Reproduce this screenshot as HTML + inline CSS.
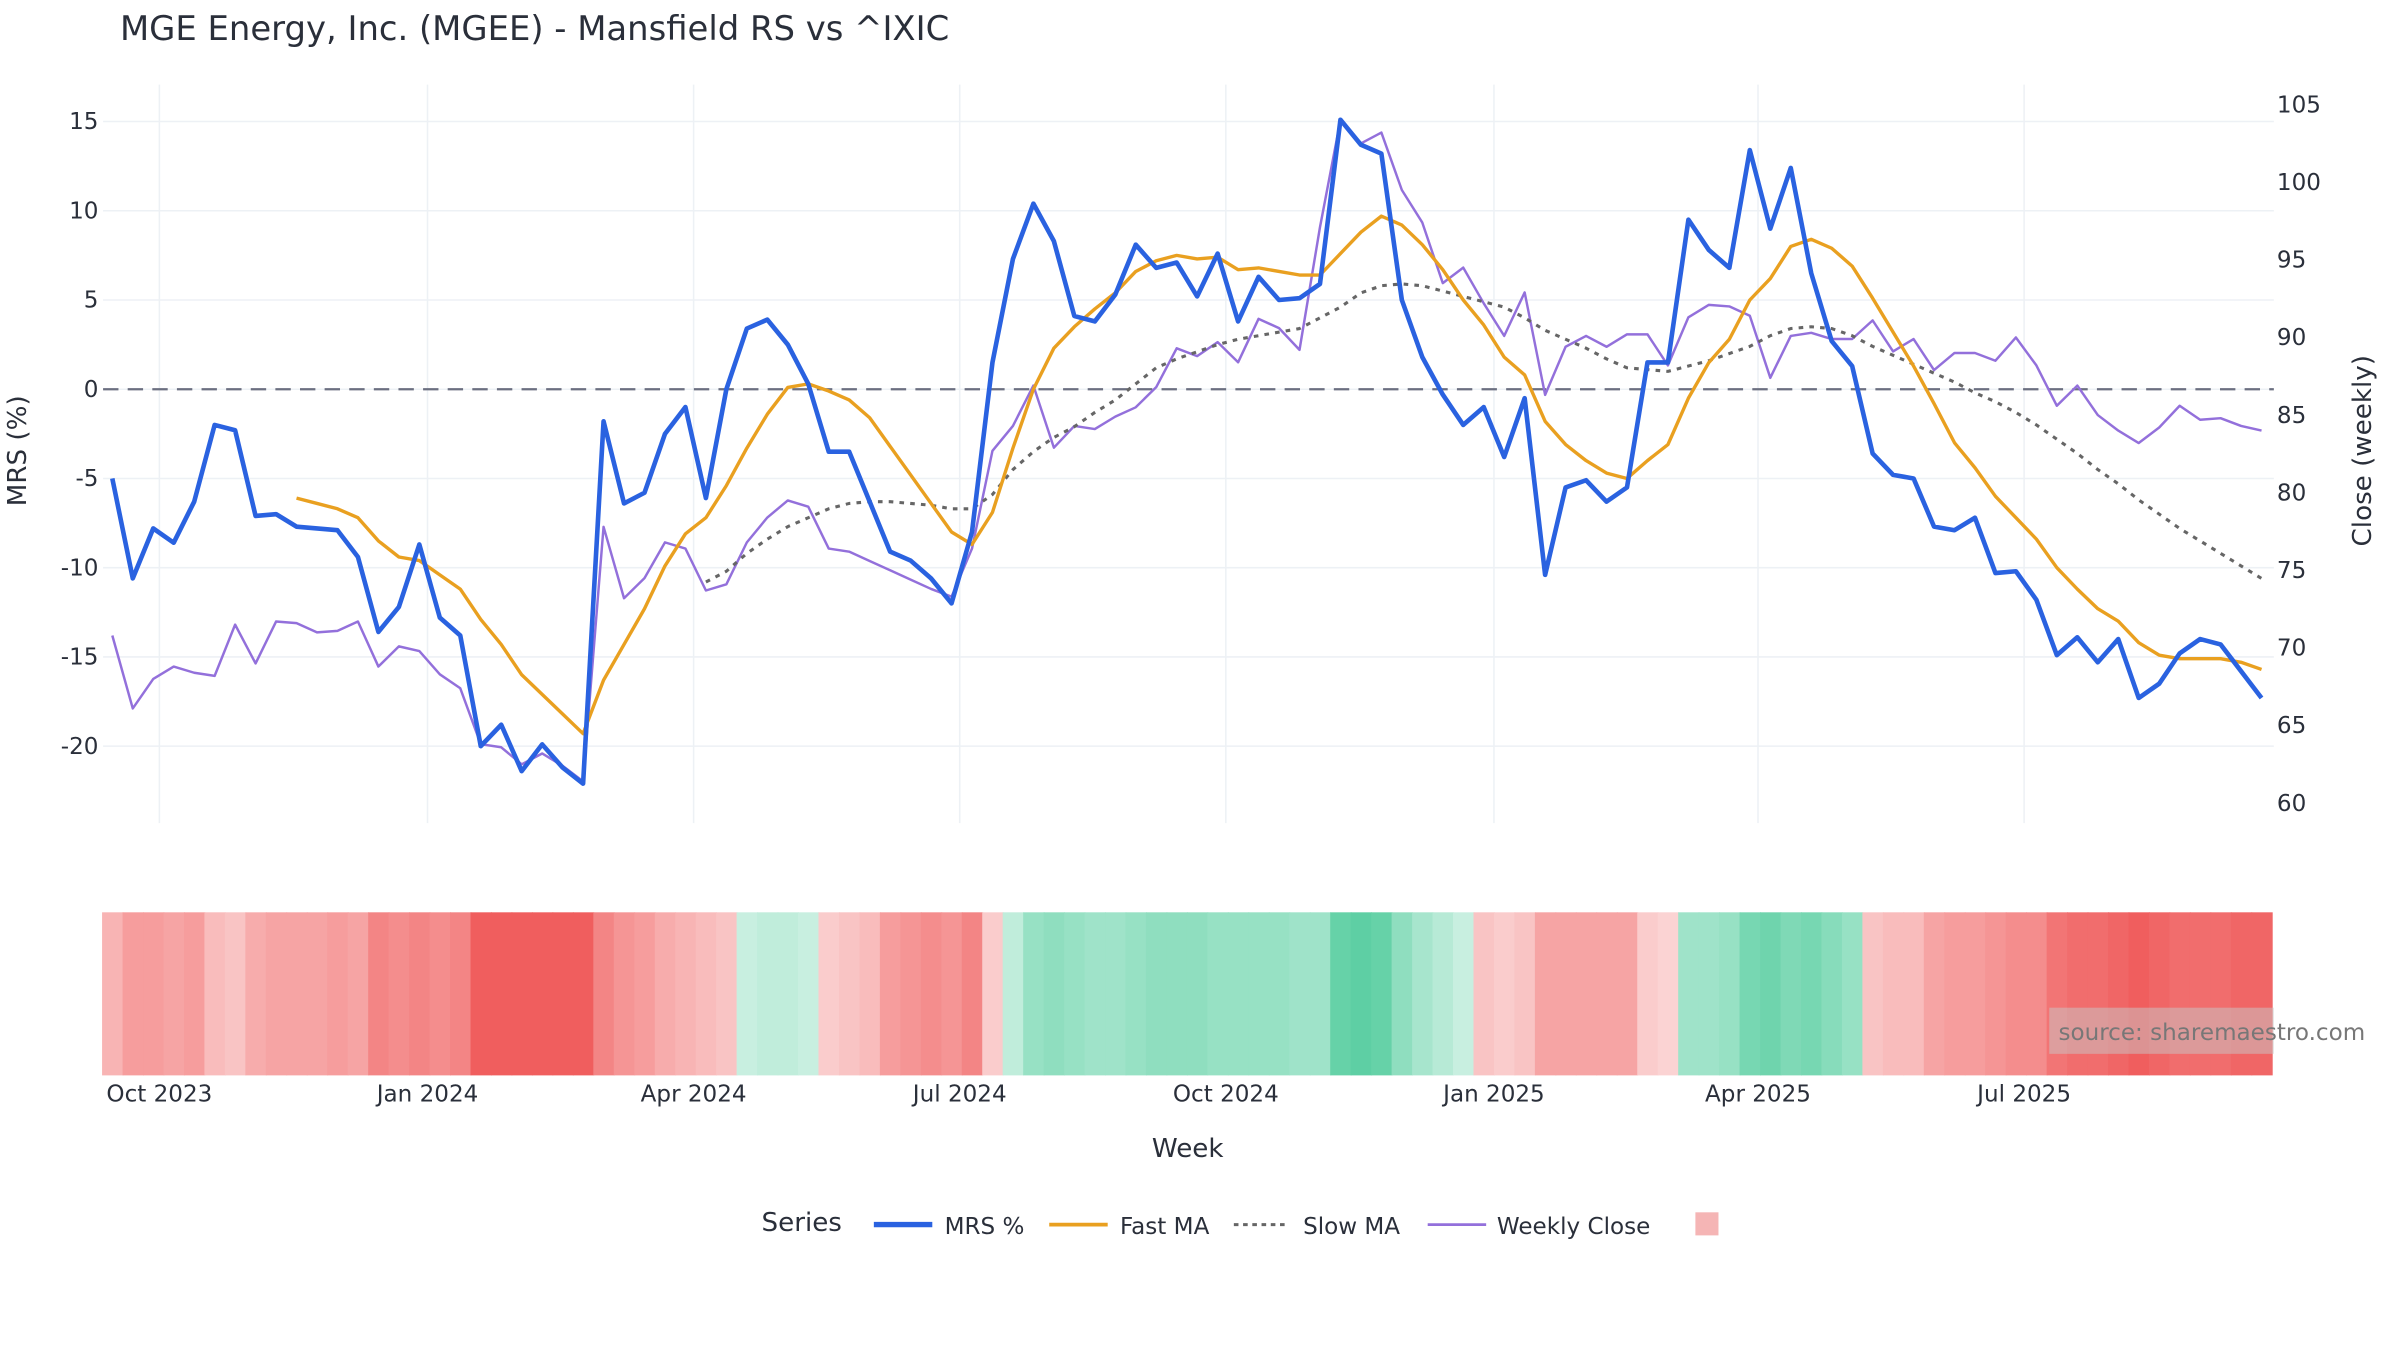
<!DOCTYPE html>
<html><head><meta charset="utf-8"><style>
html,body{margin:0;padding:0;background:#fff;}
svg{display:block;font-family:"DejaVu Sans","Liberation Sans",sans-serif;}
</style></head>
<body>
<svg id="chart" width="2400" height="1350" viewBox="0 0 1560 877.5" xmlns="http://www.w3.org/2000/svg">
<text x="78" y="26" font-size="22" fill="#2a2f3a">MGE Energy, Inc. (MGEE) - Mansfield RS vs ^IXIC</text>
<g id="grid"></g>
<g id="heat"></g>
<g id="lines"></g>
<g id="axes"></g>
<text transform="translate(17,293) rotate(-90)" text-anchor="middle" font-size="17" fill="#2a2f3a">MRS (%)</text>
<text transform="translate(1541,293) rotate(-90)" text-anchor="middle" font-size="17" fill="#2a2f3a">Close (weekly)</text>
<text x="772" y="752" text-anchor="middle" font-size="17" fill="#2a2f3a">Week</text>
<g>
<rect x="1332" y="655" width="146" height="30" fill="#c8c8c8" fill-opacity="0.5"/>
<text x="1338" y="676" font-size="15" fill="#777">source: sharemaestro.com</text>
</g>
<g>
<text x="495" y="800" font-size="17" fill="#2a2f3a">Series</text>
<g><line x1="568" y1="796" x2="606" y2="796" stroke="#2a62e0" stroke-width="3.5"/><text x="614" y="802" font-size="15" fill="#2a2f3a">MRS %</text></g>
<g><line x1="682" y1="796" x2="720" y2="796" stroke="#e9a020" stroke-width="2.5"/><text x="728" y="802" font-size="15" fill="#2a2f3a">Fast MA</text></g>
<g><line x1="802" y1="796" x2="838" y2="796" stroke="#666" stroke-width="2" stroke-dasharray="3,3"/><text x="847" y="802" font-size="15" fill="#2a2f3a">Slow MA</text></g>
<g><line x1="928" y1="796" x2="966" y2="796" stroke="#9370db" stroke-width="1.8"/><text x="973" y="802" font-size="15" fill="#2a2f3a">Weekly Close</text></g>
<rect x="1102" y="788" width="15" height="15" fill="#f5b5b5"/>
</g>
</svg>
<script>
const mrs=[-5,-10.6,-7.8,-8.6,-6.3,-2,-2.3,-7.1,-7,-7.7,-7.8,-7.9,-9.4,-13.6,-12.2,-8.7,-12.8,-13.8,-20,-18.8,-21.4,-19.9,-21.2,-22.1,-1.8,-6.4,-5.8,-2.5,-1,-6.1,0,3.4,3.9,2.5,0.3,-3.5,-3.5,-6.3,-9.1,-9.6,-10.6,-12,-8,1.5,7.3,10.4,8.3,4.1,3.8,5.3,8.1,6.8,7.1,5.2,7.6,3.8,6.3,5.0,5.1,5.9,15.1,13.7,13.2,5.0,1.8,-0.3,-2.0,-1.0,-3.8,-0.5,-10.4,-5.5,-5.1,-6.3,-5.5,1.5,1.5,9.5,7.8,6.8,13.4,9.0,12.4,6.5,2.7,1.3,-3.6,-4.8,-5.0,-7.7,-7.9,-7.2,-10.3,-10.2,-11.8,-14.9,-13.9,-15.3,-14.0,-17.3,-16.5,-14.8,-14.0,-14.3,-15.8,-17.3];
const fastStart=9;
const fastMA=[-6.1,-6.4,-6.7,-7.2,-8.5,-9.4,-9.6,-10.4,-11.2,-12.9,-14.3,-16.0,-17.1,-18.2,-19.3,-16.3,-14.3,-12.3,-9.9,-8.1,-7.2,-5.4,-3.3,-1.4,0.1,0.3,-0.1,-0.6,-1.6,-3.2,-4.8,-6.4,-8.0,-8.7,-6.9,-3.3,0,2.3,3.5,4.5,5.4,6.6,7.2,7.5,7.3,7.4,6.7,6.8,6.6,6.4,6.4,7.6,8.8,9.7,9.2,8.1,6.7,5.0,3.6,1.8,0.8,-1.8,-3.1,-4.0,-4.7,-5.0,-4.0,-3.1,-0.5,1.5,2.8,5.0,6.2,8.0,8.4,7.9,6.9,5.1,3.2,1.3,-0.8,-3.0,-4.4,-6.0,-7.2,-8.4,-10.0,-11.2,-12.3,-13.0,-14.2,-14.9,-15.1,-15.1,-15.1,-15.3,-15.7];
const slowStart=29;
const slowMA=[-10.8,-10.2,-9.2,-8.4,-7.7,-7.2,-6.7,-6.4,-6.3,-6.3,-6.4,-6.5,-6.7,-6.7,-5.9,-4.5,-3.5,-2.7,-2.1,-1.3,-0.6,0.3,1.2,1.7,2.1,2.5,2.8,3.0,3.2,3.4,4.0,4.6,5.4,5.8,5.9,5.8,5.5,5.2,4.9,4.6,4.0,3.3,2.8,2.3,1.7,1.2,1.1,1.0,1.3,1.6,2.0,2.4,3.0,3.4,3.5,3.4,3.0,2.4,1.9,1.4,0.9,0.4,-0.2,-0.7,-1.3,-2.0,-2.8,-3.6,-4.5,-5.3,-6.2,-7.0,-7.8,-8.5,-9.2,-9.9,-10.6];
const closeW=[70.8,66.1,68.0,68.8,68.4,68.2,71.5,69.0,71.7,71.6,71.0,71.1,71.7,68.8,70.1,69.8,68.3,67.4,63.8,63.6,62.5,63.2,62.4,61.4,77.8,73.2,74.5,76.8,76.4,73.7,74.1,76.8,78.4,79.5,79.1,76.4,76.2,75.6,75.0,74.4,73.8,73.3,76.4,82.7,84.3,86.9,82.9,84.3,84.1,84.9,85.5,86.8,89.3,88.8,89.7,88.4,91.2,90.6,89.2,97.1,104.0,102.5,103.2,99.5,97.4,93.5,94.5,92.2,90.1,92.9,86.3,89.4,90.1,89.4,90.2,90.2,88.2,91.3,92.1,92.0,91.4,87.4,90.1,90.3,89.9,89.9,91.1,89.1,89.9,87.9,89.0,89.0,88.5,90.0,88.2,85.6,86.9,85.0,84.0,83.2,84.2,85.6,84.7,84.8,84.3,84.0];
const heat=[-0.35,-0.5,-0.5,-0.45,-0.5,-0.3,-0.25,-0.4,-0.45,-0.45,-0.45,-0.5,-0.45,-0.65,-0.6,-0.65,-0.6,-0.65,-0.9,-0.9,-0.9,-0.9,-0.9,-0.9,-0.65,-0.55,-0.5,-0.4,-0.35,-0.3,-0.25,0.2,0.25,0.25,0.2,-0.2,-0.25,-0.3,-0.5,-0.55,-0.6,-0.55,-0.65,-0.2,0.25,0.5,0.55,0.5,0.45,0.45,0.5,0.55,0.55,0.55,0.5,0.5,0.5,0.5,0.45,0.45,0.8,0.85,0.8,0.55,0.4,0.3,0.2,-0.25,-0.2,-0.25,-0.45,-0.45,-0.45,-0.45,-0.45,-0.2,-0.15,0.45,0.45,0.5,0.7,0.75,0.65,0.7,0.6,0.5,-0.25,-0.3,-0.3,-0.45,-0.5,-0.5,-0.55,-0.6,-0.6,-0.75,-0.8,-0.8,-0.85,-0.9,-0.85,-0.8,-0.8,-0.8,-0.85,-0.85];
const leftTicks=[15,10,5,0,-5,-10,-15,-20];
const rightTicks=[105,100,95,90,85,80,75,70,65,60];
const monthLabels=["Oct 2023","Jan 2024","Apr 2024","Jul 2024","Oct 2024","Jan 2025","Apr 2025","Jul 2025"];
const monthWeek=[2.3,15.4,28.4,41.4,54.4,67.5,80.4,93.4];

const NS="http://www.w3.org/2000/svg";
const X0=73,X1=1470,N=105;
function xs(i){return X0+i*(X1-X0)/N;}
function yl(v){return 253-11.6*v;}
function yr(v){return 68+(105-v)*10.09;}
function mk(tag,attrs,parent){const e=document.createElementNS(NS,tag);for(const k in attrs)e.setAttribute(k,attrs[k]);parent.appendChild(e);return e;}
const grid=document.getElementById('grid'),axes=document.getElementById('axes'),lines=document.getElementById('lines'),heatG=document.getElementById('heat');
leftTicks.forEach(t=>{
  const l=mk('line',{x1:67,x2:1478,y1:yl(t),y2:yl(t),stroke:'#edf1f5','stroke-width':1},grid);
  
  
  const tx=mk('text',{x:64,y:yl(t)+5,'text-anchor':'end','font-size':15,fill:'#2a2f3a'},axes);
  tx.textContent=t;
  
  
});
rightTicks.forEach(t=>{
  const tx=mk('text',{x:1480,y:yr(t)+5,'font-size':15,fill:'#2a2f3a'},axes);
  tx.textContent=t;
  
  
});
monthLabels.forEach((m,k)=>{
  const x=xs(monthWeek[k]);
  const l=mk('line',{x1:x,x2:x,y1:55,y2:535,stroke:'#edf1f5','stroke-width':1},grid);
  
  
  const tx=mk('text',{x:x,y:716,'text-anchor':'middle','font-size':15,fill:'#2a2f3a'},axes);
  tx.textContent=m;
  
  
});
function col(v){
  const a=Math.min(1,Math.abs(v));
  let c0,c1;
  if(v<0){c0=[253,235,235];c1=[238,78,78];}else{c0=[232,249,242];c1=[70,200,150];}
  return 'rgb('+c0.map((c,j)=>Math.round(c+(c1[j]-c)*a)).join(',')+')';
}
const cw=(X1-X0)/N;
heat.forEach((v,i)=>{
  const r=mk('rect',{x:xs(i)-cw/2,y:593,width:cw+0.6,height:106,fill:col(v)},heatG);
  
  
});
const z=mk('line',{x1:67,x2:1478,y1:yl(0),y2:yl(0),stroke:'#6b6f80','stroke-width':1.5,'stroke-dasharray':'10,6'},lines);


function path(arr,start,yf,attrs,name){
  const d=arr.map((v,k)=>(k?'L':'M')+xs(start+k).toFixed(2)+','+yf(v).toFixed(2)).join(' ');
  const p=mk('path',Object.assign({d:d,fill:'none','stroke-linejoin':'round'},attrs),lines);
  
  
}
path(closeW,0,yr,{stroke:'#9370db','stroke-width':1.6},'weekly-close-line');
path(slowMA,slowStart,yl,{stroke:'#666','stroke-width':2,'stroke-dasharray':'3,4'},'slow-ma-line');
path(fastMA,fastStart,yl,{stroke:'#e9a020','stroke-width':2.2},'fast-ma-line');
path(mrs,0,yl,{stroke:'#2a62e0','stroke-width':3},'mrs-line');
</script>
</body></html>
